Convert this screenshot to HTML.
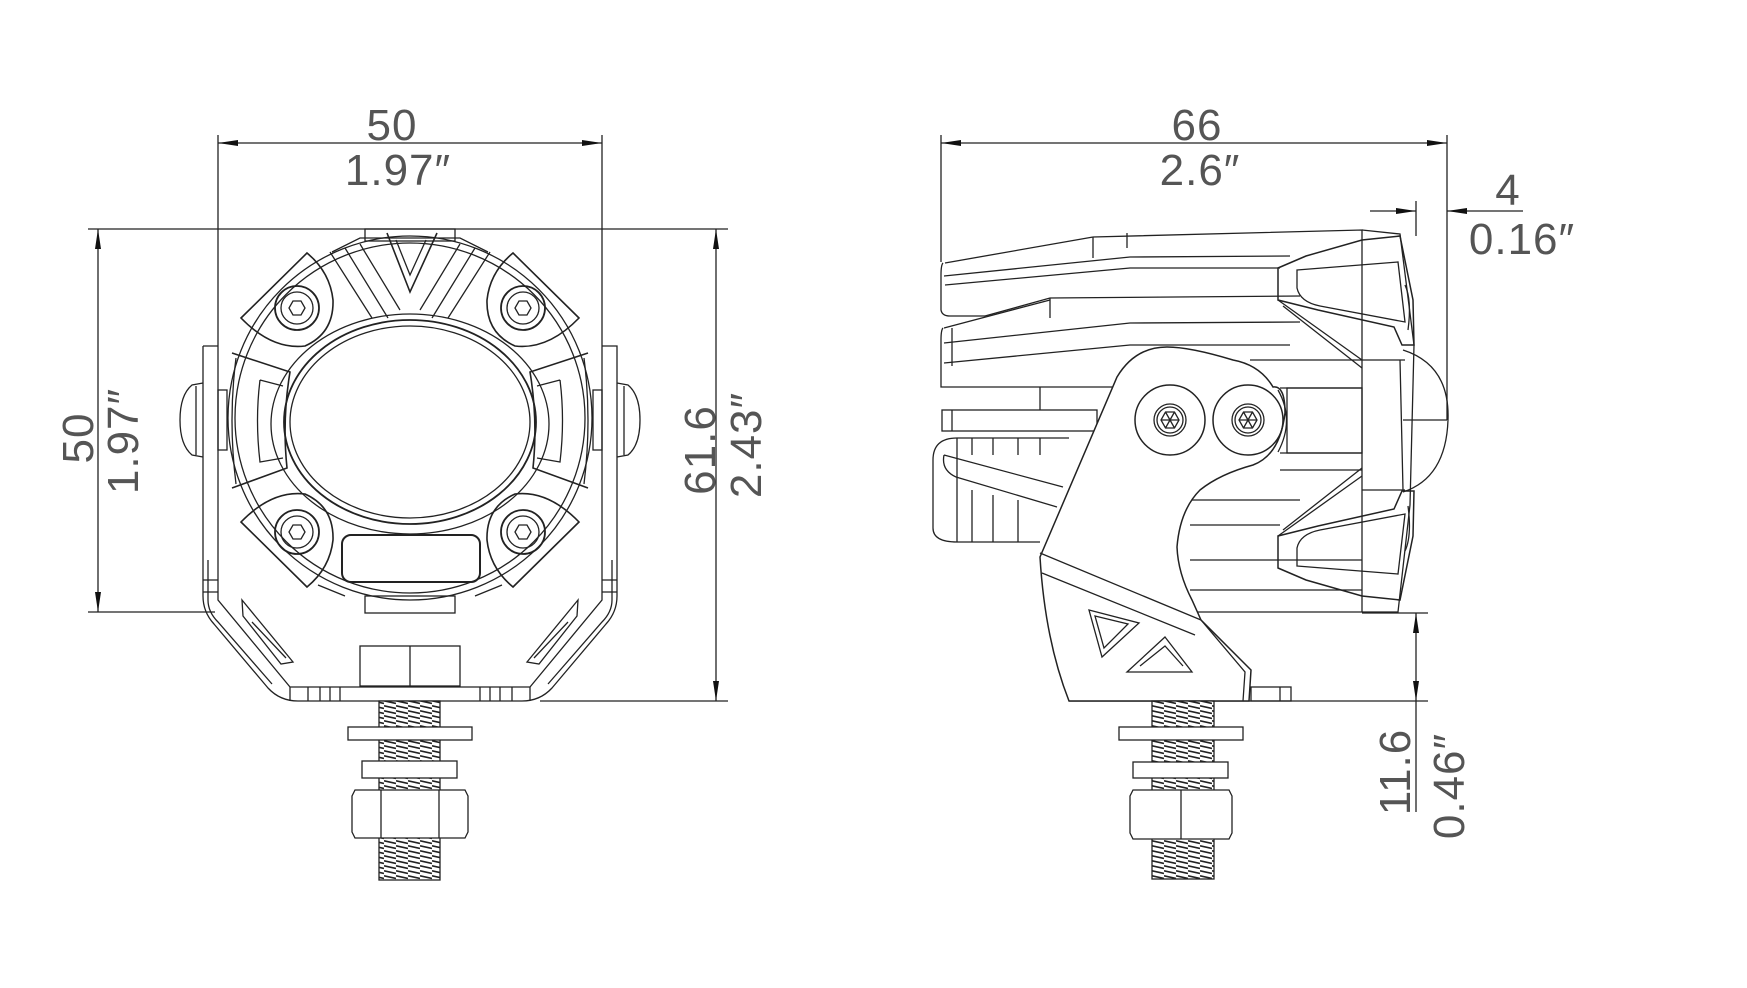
<!DOCTYPE html>
<html><head><meta charset="utf-8"><style>
html,body{margin:0;padding:0;background:#fff;}
svg{display:block;}
text{font-family:"Liberation Sans",sans-serif;fill:#555;font-size:44px;letter-spacing:1px;}
</style></head><body>
<svg width="1747" height="988" viewBox="0 0 1747 988" xmlns="http://www.w3.org/2000/svg">
<defs>
<pattern id="thr" width="12" height="5" patternUnits="userSpaceOnUse">
<rect width="12" height="5" fill="#fff"/>
<path d="M0,0.8 L12,3.5" stroke="#222" stroke-width="1.6"/>
</pattern>
<marker id="a" viewBox="0 0 20 6" refX="20" refY="3" markerWidth="20" markerHeight="6" markerUnits="userSpaceOnUse" orient="auto-start-reverse"><path d="M0,0 L20,3 L0,6 Z" fill="#111"/></marker>
</defs>
<g fill="none" stroke="#222" stroke-width="1.3">
<line x1="218" y1="135" x2="218" y2="346"/>
<line x1="602" y1="135" x2="602" y2="346"/>
<line x1="218" y1="143" x2="602" y2="143" marker-start="url(#a)" marker-end="url(#a)"/>
<line x1="88" y1="229" x2="728" y2="229"/>
<line x1="88" y1="612" x2="215" y2="612"/>
<line x1="98" y1="229" x2="98" y2="612" marker-start="url(#a)" marker-end="url(#a)"/>
<line x1="540" y1="701" x2="728" y2="701"/>
<line x1="716" y1="229" x2="716" y2="701" marker-start="url(#a)" marker-end="url(#a)"/>

<circle cx="410" cy="418" r="182"/>
<circle cx="410" cy="418" r="175"/>
<ellipse cx="410" cy="424" rx="139" ry="110"/>
<ellipse cx="410" cy="422" rx="126" ry="102" stroke-width="1.8"/>
<ellipse cx="410" cy="422" rx="120" ry="96"/>
<rect x="365" y="229" width="90" height="12"/>
<path d="M387,233 L410,292 L437,233" stroke-width="1.6"/>
<path d="M396,240 L410,275 L426,240"/>
<path d="M330,252 L372,318 M345,248 L388,318 M360,244 L400,310"/>
<path d="M490,252 L448,318 M475,248 L432,318 M460,244 L420,310"/>
<path d="M332,252 L360,238 L460,238 L488,252"/>
<g id="pad">
<path d="M241,318 L307,253 Q330,272 333,300 Q334,333 305,346 Q272,350 241,318 Z" stroke-width="1.6"/>
<circle cx="297" cy="308" r="22" stroke-width="1.8"/>
<circle cx="297" cy="308" r="16"/>
<polygon points="305,308 301,315 293,315 289,308 293,301 301,301"/>
</g>
<use href="#pad" transform="translate(820,0) scale(-1,1)"/>
<use href="#pad" transform="translate(0,840) scale(1,-1)"/>
<use href="#pad" transform="translate(820,840) scale(-1,-1)"/>
<g id="sideb">
<path d="M232,353 L290,372 Q282,420 287,468 L232,488" stroke-width="1.6"/>
<path d="M260,380 L283,386 M260,380 Q255,420 260,462 L283,458"/>
<path d="M236,358 Q228,420 236,484"/>
</g>
<use href="#sideb" transform="translate(820,0) scale(-1,1)"/>
<rect x="342" y="535" width="138" height="47" rx="9" stroke-width="2"/>
<rect x="365" y="596" width="90" height="17"/>
<path d="M318,585 L345,596 M502,585 L475,596"/>
<path d="M203,346 L218,346 M203,346 L203,596 Q203,612 214,624 L268,688 Q280,701 298,701 L522,701 Q540,701 552,688 L606,624 Q617,612 617,596 L617,346 L602,346"/>
<path d="M218,346 L218,600 L290,687 L530,687 L602,600 L602,346"/>
<path d="M208,560 L208,600 Q208,612 218,622 L272,684"/>
<path d="M612,560 L612,600 Q612,612 602,622 L548,684"/>
<path d="M242,600 L293,662 L281,664 L243,616 Z M252,622 L286,658"/>
<path d="M578,600 L527,662 L539,664 L577,616 Z M568,622 L534,658"/>
<path d="M290,687 L290,701 M308,687 L308,701 M320,687 L320,701 M330,687 L330,701 M340,687 L340,701"/>
<path d="M530,687 L530,701 M512,687 L512,701 M500,687 L500,701 M490,687 L490,701 M480,687 L480,701"/>
<path d="M203,580 L218,580 M203,592 L218,592 M602,580 L617,580 M602,592 L617,592"/>
<path d="M203,383 L192,385 Q180,395 180,420 Q180,445 192,455 L203,457"/>
<path d="M196,386 L196,455"/>
<rect x="218" y="390" width="9" height="60"/>
<path d="M617,383 L628,385 Q640,395 640,420 Q640,445 628,455 L617,457"/>
<path d="M624,386 L624,455"/>
<rect x="593" y="390" width="9" height="60"/>
<rect x="360" y="646" width="100" height="40"/>
<line x1="410" y1="646" x2="410" y2="686"/>
<rect x="379" y="701" width="61" height="179" fill="url(#thr)"/>
<rect x="348" y="727" width="124" height="13" fill="#fff"/>
<rect x="362" y="761" width="95" height="17" fill="#fff"/>
<path d="M355,790 L465,790 L468,796 L468,832 L465,838 L355,838 L352,832 L352,796 Z" fill="#fff"/>
<path d="M381,790 L381,838 M439,790 L439,838"/>

<line x1="941" y1="135" x2="941" y2="262"/>
<line x1="1447" y1="135" x2="1447" y2="420"/>
<line x1="941" y1="143" x2="1447" y2="143" marker-start="url(#a)" marker-end="url(#a)"/>
<line x1="1416" y1="201" x2="1416" y2="236"/>
<line x1="1370" y1="211" x2="1416" y2="211" marker-end="url(#a)"/>
<line x1="1447" y1="211" x2="1523" y2="211" marker-start="url(#a)"/>
<line x1="1362" y1="613" x2="1428" y2="613"/>
<line x1="1069" y1="701" x2="1428" y2="701"/>
<line x1="1416" y1="613" x2="1416" y2="701" marker-start="url(#a)" marker-end="url(#a)"/>
<line x1="1416" y1="701" x2="1416" y2="812"/>
<line x1="1403" y1="420" x2="1447" y2="420"/>

<path d="M1093,237 L1362,230 L1362,612 L1080,612"/>
<path d="M943,263 Q941,265 941,275 L941,310 Q942,316 950,316 L985,316"/>
<path d="M945,263 L1093,237 M944,276 L1130,257 L1290,256 M945,285 L1130,268 L1280,268"/>
<path d="M1093,237 L1093,258 M1127,233 L1127,248"/>
<path d="M985,316 L1050,298 L1300,296 M1050,298 L1050,318"/>
<path d="M943,328 Q941,330 941,340 L941,387 L1120,387"/>
<path d="M944,328 L1050,300 M944,343 L1130,323 L1300,322 M944,363 L1130,345 L1290,345"/>
<path d="M952,328 L952,366"/>
<rect x="942" y="410" width="155" height="21"/>
<line x1="952" y1="410" x2="952" y2="431"/>
<line x1="1040" y1="387" x2="1040" y2="410"/>
<path d="M1069,438 L957,438 Q933,438 933,460 L933,528 Q933,542 957,542 L1040,542"/>
<path d="M944,455 L1063,487 M956,477 L1057,507 M944,455 Q941,470 956,477"/>
<path d="M957,438 L957,542 M972,438 L972,455 M993,438 L993,455 M1018,438 L1018,455 M1040,438 L1040,455 M972,490 L972,542 M993,495 L993,542 M1018,500 L1018,542"/>
<path d="M1190,500 L1300,500 M1190,525 L1280,525 M1190,560 L1362,560 M1190,590 L1362,590 M1250,360 L1362,360 M1280,388 L1362,388 M1280,453 L1362,453 M1280,470 L1362,470"/>
<rect x="1287" y="388" width="75" height="65"/>
<path d="M1362,230 L1400,234 L1414,345 L1410,505 L1398,612 L1362,612"/>
<path d="M1362,360 L1405,360 M1362,490 L1405,490 M1400,360 L1403,490"/>
<path d="M1403,350 Q1450,365 1448,420 Q1446,478 1403,492"/>
<g id="chev">
<path d="M1278,268 L1306,256 L1362,240 L1400,236 L1413,300 L1414,345 L1402,345 L1394,327 L1318,310 L1278,300 Z" stroke-width="1.5"/>
<path d="M1297,270 L1398,262 L1405,322 L1320,306 Q1300,302 1297,288 Z"/>
<path d="M1278,300 L1362,360 M1283,306 L1362,368"/>
<path d="M1405,285 Q1412,300 1408,330"/>
</g>
<use href="#chev" transform="translate(0,836) scale(1,-1)"/>
<path d="M1069,701 L1249,701 L1251,670 L1201,620 L1192,600 Q1178,573 1177,547 Q1180,510 1200,490 Q1220,474 1253,465 Q1280,455 1285,413 Q1285,385 1273,387 Q1260,365 1233,360 Q1190,347 1167,347 Q1135,347 1117,377 L1040,557 Q1045,640 1069,701 Z" fill="#fff" stroke-width="1.5"/>
<path d="M1040,553 L1201,620 M1042,573 L1195,635"/>
<path d="M1089,610 L1139,623 L1102,657 Z M1095,616 L1128,624 L1104,648 Z"/>
<path d="M1165,637 L1192,672 L1127,672 Z M1140,666 L1165,646 L1183,666"/>
<path d="M1201,620 L1245,672 L1243,701"/>
<rect x="1251" y="687" width="40" height="14"/>
<line x1="1280" y1="687" x2="1280" y2="701"/>
<g id="scr">
<circle cx="1170" cy="420" r="35" stroke-width="1.5"/>
<circle cx="1170" cy="420" r="16"/>
<circle cx="1170" cy="420" r="13"/>
<polygon points="1179,420 1174.5,428 1165.5,428 1161,420 1165.5,412 1174.5,412"/>
<path d="M1161,420 L1179,420 M1165.5,412 L1174.5,428 M1174.5,412 L1165.5,428"/>
</g>
<use href="#scr" transform="translate(78,0)"/>
<path d="M1278,390 Q1295,420 1278,452"/>
<rect x="1152" y="701" width="62" height="178" fill="url(#thr)"/>
<rect x="1119" y="727" width="124" height="13" fill="#fff"/>
<rect x="1133" y="762" width="95" height="16" fill="#fff"/>
<path d="M1133,790 L1229,790 L1232,796 L1232,833 L1229,839 L1133,839 L1130,833 L1130,796 Z" fill="#fff"/>
<line x1="1181" y1="790" x2="1181" y2="839"/>
</g>

<text x="392" y="140" text-anchor="middle">50</text>
<text x="398" y="185" text-anchor="middle">1.97″</text>
<text transform="translate(93,438) rotate(-90)" text-anchor="middle">50</text>
<text transform="translate(138,441) rotate(-90)" text-anchor="middle">1.97″</text>
<text transform="translate(715,450) rotate(-90)" text-anchor="middle">61.6</text>
<text transform="translate(761,445) rotate(-90)" text-anchor="middle">2.43″</text>
<text x="1197" y="140" text-anchor="middle">66</text>
<text x="1200" y="185" text-anchor="middle">2.6″</text>
<text x="1508" y="205" text-anchor="middle">4</text>
<text x="1522" y="254" text-anchor="middle">0.16″</text>
<text transform="translate(1410,772) rotate(-90)" text-anchor="middle">11.6</text>
<text transform="translate(1464,786) rotate(-90)" text-anchor="middle">0.46″</text>
</svg>
</body></html>
